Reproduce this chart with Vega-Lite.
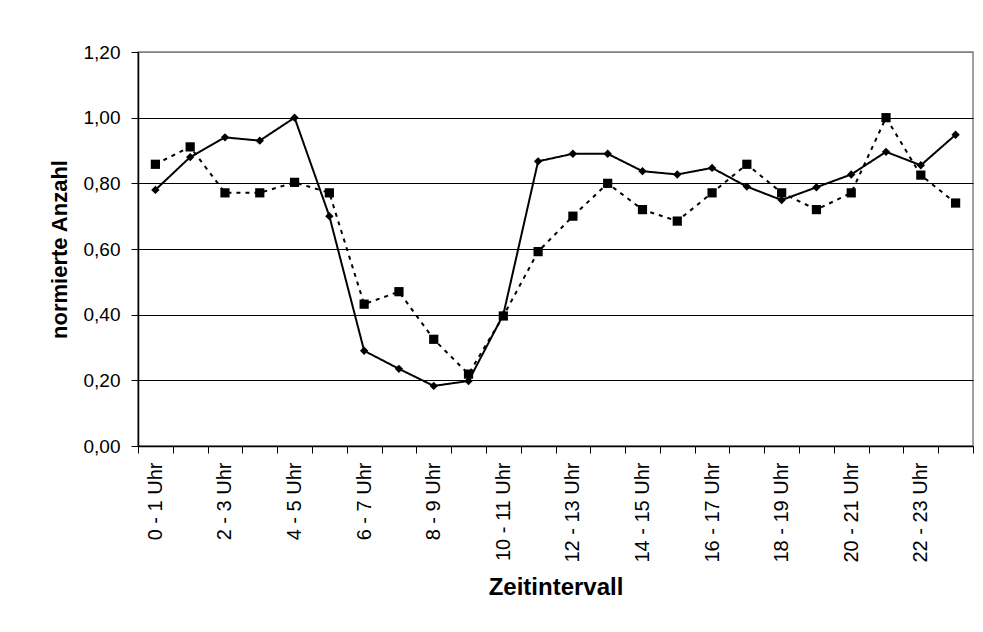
{
  "$schema": "https://vega.github.io/schema/vega-lite/v6.json",
  "autosize": {"type": "none"},
  "padding": {"left": 138, "top": 52, "right": 10, "bottom": 186},
  "width": 835,
  "height": 394,
  "background": "white",
  "config": {
    "font": "Liberation Sans",
    "view": {"stroke": "#808080", "strokeWidth": 1.5}
  },
  "data": {
    "values": [
      {"intervall": "0 - 1 Uhr", "reihe": "Reihe 1", "wert": 0.78},
      {"intervall": "1 - 2 Uhr", "reihe": "Reihe 1", "wert": 0.88},
      {"intervall": "2 - 3 Uhr", "reihe": "Reihe 1", "wert": 0.94},
      {"intervall": "3 - 4 Uhr", "reihe": "Reihe 1", "wert": 0.93},
      {"intervall": "4 - 5 Uhr", "reihe": "Reihe 1", "wert": 1.0},
      {"intervall": "5 - 6 Uhr", "reihe": "Reihe 1", "wert": 0.70},
      {"intervall": "6 - 7 Uhr", "reihe": "Reihe 1", "wert": 0.29},
      {"intervall": "7 - 8 Uhr", "reihe": "Reihe 1", "wert": 0.235},
      {"intervall": "8 - 9 Uhr", "reihe": "Reihe 1", "wert": 0.183},
      {"intervall": "9 - 10 Uhr", "reihe": "Reihe 1", "wert": 0.198},
      {"intervall": "10 - 11 Uhr", "reihe": "Reihe 1", "wert": 0.40},
      {"intervall": "11 - 12 Uhr", "reihe": "Reihe 1", "wert": 0.867},
      {"intervall": "12 - 13 Uhr", "reihe": "Reihe 1", "wert": 0.89},
      {"intervall": "13 - 14 Uhr", "reihe": "Reihe 1", "wert": 0.89},
      {"intervall": "14 - 15 Uhr", "reihe": "Reihe 1", "wert": 0.837},
      {"intervall": "15 - 16 Uhr", "reihe": "Reihe 1", "wert": 0.827},
      {"intervall": "16 - 17 Uhr", "reihe": "Reihe 1", "wert": 0.847},
      {"intervall": "17 - 18 Uhr", "reihe": "Reihe 1", "wert": 0.79},
      {"intervall": "18 - 19 Uhr", "reihe": "Reihe 1", "wert": 0.749},
      {"intervall": "19 - 20 Uhr", "reihe": "Reihe 1", "wert": 0.788},
      {"intervall": "20 - 21 Uhr", "reihe": "Reihe 1", "wert": 0.827},
      {"intervall": "21 - 22 Uhr", "reihe": "Reihe 1", "wert": 0.896},
      {"intervall": "22 - 23 Uhr", "reihe": "Reihe 1", "wert": 0.855},
      {"intervall": "23 - 24 Uhr", "reihe": "Reihe 1", "wert": 0.948},
      {"intervall": "0 - 1 Uhr", "reihe": "Reihe 2", "wert": 0.858},
      {"intervall": "1 - 2 Uhr", "reihe": "Reihe 2", "wert": 0.911},
      {"intervall": "2 - 3 Uhr", "reihe": "Reihe 2", "wert": 0.771},
      {"intervall": "3 - 4 Uhr", "reihe": "Reihe 2", "wert": 0.771},
      {"intervall": "4 - 5 Uhr", "reihe": "Reihe 2", "wert": 0.803},
      {"intervall": "5 - 6 Uhr", "reihe": "Reihe 2", "wert": 0.771},
      {"intervall": "6 - 7 Uhr", "reihe": "Reihe 2", "wert": 0.432},
      {"intervall": "7 - 8 Uhr", "reihe": "Reihe 2", "wert": 0.47},
      {"intervall": "8 - 9 Uhr", "reihe": "Reihe 2", "wert": 0.325},
      {"intervall": "9 - 10 Uhr", "reihe": "Reihe 2", "wert": 0.219},
      {"intervall": "10 - 11 Uhr", "reihe": "Reihe 2", "wert": 0.396},
      {"intervall": "11 - 12 Uhr", "reihe": "Reihe 2", "wert": 0.592},
      {"intervall": "12 - 13 Uhr", "reihe": "Reihe 2", "wert": 0.70},
      {"intervall": "13 - 14 Uhr", "reihe": "Reihe 2", "wert": 0.80},
      {"intervall": "14 - 15 Uhr", "reihe": "Reihe 2", "wert": 0.72},
      {"intervall": "15 - 16 Uhr", "reihe": "Reihe 2", "wert": 0.685},
      {"intervall": "16 - 17 Uhr", "reihe": "Reihe 2", "wert": 0.771},
      {"intervall": "17 - 18 Uhr", "reihe": "Reihe 2", "wert": 0.858},
      {"intervall": "18 - 19 Uhr", "reihe": "Reihe 2", "wert": 0.771},
      {"intervall": "19 - 20 Uhr", "reihe": "Reihe 2", "wert": 0.72},
      {"intervall": "20 - 21 Uhr", "reihe": "Reihe 2", "wert": 0.771},
      {"intervall": "21 - 22 Uhr", "reihe": "Reihe 2", "wert": 1.0},
      {"intervall": "22 - 23 Uhr", "reihe": "Reihe 2", "wert": 0.825},
      {"intervall": "23 - 24 Uhr", "reihe": "Reihe 2", "wert": 0.74}
    ]
  },
  "encoding": {
    "x": {
      "field": "intervall",
      "type": "ordinal",
      "sort": null,
      "bandPosition": 0.5,
      "scale": {"type": "band", "paddingInner": 0, "paddingOuter": 0},
      "axis": {
        "title": "Zeitintervall",
        "titleFontSize": 24,
        "titleFontWeight": "bold",
        "titleColor": "black",
        "titlePadding": 13,
        "labelAngle": -90,
        "labelAlign": "right",
        "labelBaseline": "middle",
        "labelFontSize": 20,
        "labelColor": "black",
        "labelPadding": 9,
        "labelExpr": "parseInt(datum.value) % 2 == 0 ? datum.label : ''",
        "tickBand": "extent",
        "tickSize": 7,
        "tickColor": "black",
        "domainColor": "black",
        "domainWidth": 1.5,
        "grid": false,
        "labelOverlap": false
      }
    },
    "y": {
      "field": "wert",
      "type": "quantitative",
      "scale": {"domain": [0, 1.2], "nice": false},
      "axis": {
        "title": "normierte Anzahl",
        "titleFontSize": 22,
        "titleFontWeight": "bold",
        "titleColor": "black",
        "titlePadding": 12,
        "values": [0, 0.2, 0.4, 0.6, 0.8, 1.0, 1.2],
        "labelExpr": "replace(format(datum.value, '.2f'), '.', ',')",
        "labelFontSize": 19,
        "labelColor": "black",
        "labelPadding": 11,
        "tickSize": 7,
        "tickColor": "black",
        "domainColor": "black",
        "domainWidth": 1.5,
        "grid": true,
        "gridColor": {"condition": {"test": "datum.value >= 1.2", "value": "#808080"}, "value": "black"},
        "gridWidth": 1.2,
        "gridOpacity": 1
      }
    }
  },
  "layer": [
    {
      "mark": {"type": "line", "color": "black", "strokeWidth": 2},
      "encoding": {
        "detail": {"field": "reihe"},
        "strokeDash": {
          "field": "reihe",
          "type": "nominal",
          "scale": {"domain": ["Reihe 1", "Reihe 2"], "range": [[1, 0], [4, 5]]},
          "legend": null
        }
      }
    },
    {
      "mark": {"type": "point", "filled": true, "color": "black", "opacity": 1},
      "encoding": {
        "shape": {
          "field": "reihe",
          "type": "nominal",
          "scale": {"domain": ["Reihe 1", "Reihe 2"], "range": ["diamond", "square"]},
          "legend": null
        },
        "size": {
          "field": "reihe",
          "type": "nominal",
          "scale": {"domain": ["Reihe 1", "Reihe 2"], "range": [70, 85]},
          "legend": null
        }
      }
    }
  ]
}
